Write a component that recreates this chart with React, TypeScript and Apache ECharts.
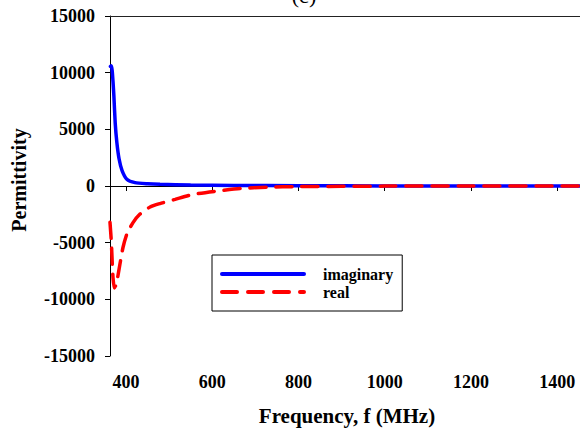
import React, { useEffect, useRef } from "react";
import * as echarts from "echarts";

const imagFreq = [364, 366, 368, 370, 372, 375, 379, 384, 391, 402, 421, 450, 479, 550, 650, 800, 1000, 1200, 1453];
const imagVal = [10550, 10600, 10200, 9200, 7950, 5600, 3800, 2400, 1350, 600, 300, 200, 150, 90, 50, 20, 10, 5, 0];

const realFreq = [363, 366, 368, 370, 373, 376, 381, 386, 393, 402, 416, 432, 456, 479, 514, 555, 611, 665, 727, 800, 1000, 1200, 1453];
const realVal = [-3200, -4850, -6600, -8100, -9000, -8800, -8000, -6900, -5450, -4250, -3250, -2500, -1850, -1550, -1180, -750, -450, -220, -100, -50, -10, 0, 0];

const xTicks = [400, 600, 800, 1000, 1200, 1400];
const yMin = -15000;
const yMax = 15000;
const yStep = 5000;
const xMin = 363;
const xMax = 1453;

const seriesNames = ["imaginary", "real"];
const titleText = "(c)";
const xTitle = "Frequency, f (MHz)";
const yTitle = "Permittivity";

const FONT = "Liberation Serif";

export default function App() {
  const ref = useRef<HTMLDivElement>(null);
  useEffect(() => {
    document.body.style.margin = "0";
    if (!ref.current) return;
    const chart = echarts.init(ref.current, null, { renderer: "svg" });
    const pair = (xs: number[], ys: number[]) => xs.map((x, i) => [x, ys[i]]);
    chart.setOption({
      animation: false,
      backgroundColor: "#fff",
      grid: { left: 110, right: 0, top: 16, bottom: 75, containLabel: false },
      xAxis: [
        {
          type: "value",
          min: xMin,
          max: xMax,
          position: "bottom",
          splitLine: { show: false },
          axisLine: { show: true, lineStyle: { color: "#000", width: 1 } },
          axisTick: { show: true, length: 5, inside: false, customValues: xTicks, lineStyle: { color: "#000" } },
          axisLabel: {
            customValues: xTicks,
            formatter: (v: number) => String(v),
            margin: 17,
            color: "#000",
            fontFamily: FONT,
            fontWeight: "bold",
            fontSize: 18,
          },
        },
        {
          type: "value",
          min: xMin,
          max: xMax,
          position: "top",
          splitLine: { show: false },
          axisLine: { show: true, lineStyle: { color: "#222", width: 1 } },
          axisTick: { show: false },
          axisLabel: { show: false },
        },
      ],
      yAxis: {
        type: "value",
        min: yMin,
        max: yMax,
        interval: yStep,
        splitLine: { show: false },
        axisLine: { show: true, lineStyle: { color: "#000", width: 1 } },
        axisTick: { show: true, length: 5, lineStyle: { color: "#000" } },
        axisLabel: {
          formatter: (v: number) => String(v),
          margin: 15,
          color: "#000",
          fontFamily: FONT,
          fontWeight: "bold",
          fontSize: 18,
        },
      },
      legend: {
        orient: "vertical",
        left: 212,
        top: 255,
        padding: [11, 9, 11, 8],
        itemGap: 2,
        itemWidth: 82,
        itemHeight: 14,
        borderColor: "#000",
        borderWidth: 1,
        backgroundColor: "#fff",
        itemStyle: { opacity: 0 },
        lineStyle: { width: 4, cap: "round" },
        textStyle: {
          color: "#000",
          fontFamily: FONT,
          fontWeight: "bold",
          fontSize: 16,
          padding: [0, 0, 0, 14],
        },
        data: [
          { name: seriesNames[0], lineStyle: { width: 4, type: "solid", cap: "round" } },
          { name: seriesNames[1], lineStyle: { width: 4, type: [15, 11], cap: "round" } },
        ],
      },
      series: [
        {
          name: seriesNames[0],
          type: "line",
          data: pair(imagFreq, imagVal),
          symbol: "none",
          smooth: 0.2,
          clip: true,
          lineStyle: { color: "#0000ff", width: 3.5, cap: "round" },
          itemStyle: { color: "#0000ff" },
        },
        {
          name: seriesNames[1],
          type: "line",
          data: pair(realFreq, realVal),
          symbol: "none",
          smooth: 0.2,
          clip: false,
          lineStyle: { color: "#ff0000", width: 3.5, type: [16, 10], cap: "round" },
          itemStyle: { color: "#ff0000" },
        },
      ],
      graphic: [
        {
          type: "text",
          x: 304,
          y: -5,
          style: {
            text: titleText,
            fill: "#000",
            font: `22px ${FONT}`,
            align: "center",
            verticalAlign: "middle",
          },
        },
        {
          type: "text",
          x: 347,
          y: 416,
          style: {
            text: xTitle,
            fill: "#000",
            font: `bold 21px ${FONT}`,
            align: "center",
            verticalAlign: "middle",
          },
        },
        {
          type: "text",
          x: 19,
          y: 180,
          rotation: Math.PI / 2,
          style: {
            text: yTitle,
            fill: "#000",
            font: `bold 20px ${FONT}`,
            align: "center",
            verticalAlign: "middle",
          },
        },
      ],
    });
    return () => chart.dispose();
  }, []);
  return (
    <div
      ref={ref}
      style={{ width: 580, height: 431, position: "absolute", left: 0, top: 0 }}
    />
  );
}
